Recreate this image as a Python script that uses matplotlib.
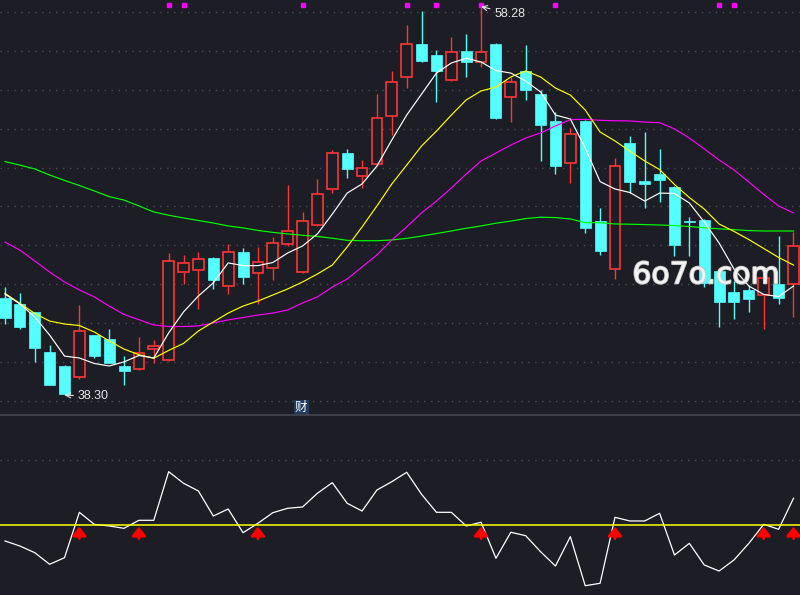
import numpy as np
import matplotlib
matplotlib.use("Agg")
import matplotlib.pyplot as plt
from matplotlib.lines import Line2D
import matplotlib.transforms as mtransforms
import matplotlib.patheffects as pe

# candle data
opens = [43.31, 42.99, 42.58, 40.52, 39.80, 39.25, 41.39, 41.19, 39.80, 39.63,
         40.66, 40.09, 44.63, 44.72, 45.35, 43.90, 45.65, 44.57, 44.85, 46.06,
         44.62, 47.03, 48.88, 50.75, 49.56, 50.17, 52.64, 54.64, 56.35, 55.79,
         54.52, 56.00, 55.41, 56.35, 53.65, 54.97, 53.78, 52.40, 50.25, 52.40,
         47.25, 44.77, 51.25, 49.31, 49.67, 49.00, 47.25, 47.31, 44.69, 43.60,
         43.71, 43.43, 44.00, 44.00]
highs = [43.85, 43.54, 42.60, 40.88, 39.87, 42.93, 41.40, 41.70, 40.31, 41.29,
         41.14, 45.62, 45.52, 45.66, 45.40, 46.07, 45.87, 45.92, 46.43, 49.11,
         47.70, 49.41, 50.91, 50.96, 50.39, 53.78, 54.97, 57.33, 58.04, 56.05,
         56.71, 56.87, 58.28, 56.40, 54.64, 56.30, 53.99, 52.84, 52.02, 52.45,
         47.92, 50.48, 51.63, 51.83, 50.96, 49.05, 47.46, 47.35, 44.80, 44.16,
         43.96, 44.50, 46.48, 46.69]
lows = [41.96, 41.72, 40.02, 38.80, 38.30, 39.12, 40.20, 39.93, 38.84, 39.60,
        39.97, 40.05, 44.03, 42.75, 43.78, 43.52, 44.03, 43.00, 44.24, 45.95,
        44.60, 47.00, 48.68, 49.48, 48.97, 50.10, 51.68, 54.08, 55.45, 53.36,
        54.47, 54.67, 55.16, 52.50, 52.36, 53.49, 50.36, 49.66, 49.19, 46.62,
        45.52, 44.26, 48.68, 47.91, 48.23, 45.45, 45.47, 43.88, 41.82, 42.23,
        42.59, 41.72, 43.00, 42.33]
closes = [42.28, 41.81, 40.74, 38.84, 38.36, 41.58, 40.33, 39.95, 39.56, 40.46,
          40.81, 45.20, 45.08, 45.32, 44.24, 45.65, 44.39, 45.13, 46.11, 46.72,
          47.27, 48.64, 50.73, 49.95, 49.96, 52.53, 54.38, 56.35, 55.50, 54.98,
          55.93, 55.45, 55.93, 52.57, 54.38, 53.99, 52.19, 50.10, 51.71, 46.91,
          45.73, 50.08, 49.28, 49.17, 49.36, 46.04, 47.20, 44.07, 43.11, 43.11,
          43.26, 44.31, 43.31, 45.95]

# moving averages as drawn
ma5 = [43.50, 42.99, 42.32, 41.39, 40.31, 40.21, 39.93, 39.80, 40.01, 40.34,
       40.21, 41.50, 42.58, 43.40, 44.07, 45.10, 44.96, 44.96, 45.12, 45.61,
       45.97, 46.59, 47.61, 48.69, 49.16, 50.08, 51.42, 52.70, 53.78, 54.86,
       55.38, 55.62, 55.43, 54.99, 54.86, 54.45, 53.89, 52.70, 52.50, 51.01,
       49.28, 48.90, 48.72, 48.28, 48.69, 48.67, 48.18, 47.20, 46.12, 44.79,
       43.91, 43.48, 43.37, 43.91]
ma10 = [43.53, 43.02, 42.50, 42.11, 41.96, 41.88, 41.55, 41.09, 40.67, 40.38,
        40.20, 40.60, 40.96, 41.60, 42.06, 42.52, 42.88, 43.14, 43.45, 43.76,
        44.12, 44.53, 44.99, 45.92, 46.95, 48.03, 49.16, 50.13, 51.11, 51.88,
        52.70, 53.48, 53.94, 54.14, 54.66, 54.97, 54.66, 54.09, 53.73, 52.96,
        51.83, 51.37, 50.85, 50.34, 49.90, 49.13, 48.46, 47.87, 47.10, 46.72,
        46.30, 45.84, 45.38, 44.99]
ma30 = [46.17, 45.76, 45.20, 44.63, 44.12, 43.71, 43.35, 42.88, 42.45, 42.18,
        41.91, 41.83, 41.83, 41.86, 42.01, 42.17, 42.29, 42.42, 42.52, 42.68,
        43.04, 43.35, 43.86, 44.27, 44.89, 45.51, 46.28, 46.95, 47.67, 48.28,
        48.95, 49.67, 50.34, 50.75, 51.16, 51.52, 51.78, 52.14, 52.47, 52.48,
        52.43, 52.41, 52.40, 52.34, 52.31, 51.99, 51.52, 50.96, 50.39, 49.88,
        49.26, 48.62, 48.03, 47.67]
ma60 = [50.31, 50.13, 49.93, 49.62, 49.34, 49.08, 48.80, 48.51, 48.33, 48.03,
        47.72, 47.55, 47.41, 47.28, 47.15, 47.00, 46.90, 46.77, 46.67, 46.59,
        46.52, 46.46, 46.37, 46.26, 46.24, 46.24, 46.28, 46.36, 46.48, 46.61,
        46.74, 46.88, 47.00, 47.14, 47.25, 47.38, 47.45, 47.43, 47.36, 47.17,
        47.17, 47.10, 47.09, 47.07, 47.05, 47.02, 46.97, 46.91, 46.85, 46.81,
        46.76, 46.74, 46.74, 46.74]

# lower indicator
osc = [-24.6, -32.3, -42.6, -60.5, -50.3, 19.5, 1.0, -1.5, -5.1, 7.2,
       7.2, 82.0, 64.2, 52.3, 13.8, 24.6, -11.8, 2.6, 18.9, 25.7,
       27.7, 48.8, 65.1, 33.4, 21.5, 53.8, 66.6, 81.1, 47.2, 19.5,
       19.5, -1.5, 4.2, -51.2, -11.2, -16.5, -41.1, -63.1, -18.0, -93.4,
       -89.7, 11.8, 6.2, 6.2, 18.0, -46.2, -28.2, -61.5, -70.8, -53.8,
       -28.2, 1.0, -6.6, 41.1]

marks = [11, 12, 20, 27, 29, 32, 37, 48, 49]   # magenta dots on top
report_idx = 20                                 # "财" marker
hi_label, lo_label = "58.28", "38.30"

bg = "#1d1e25"
red = "#ff3434"
cyan = "#55ffff"
grid_c = "#4a4d56"

x = np.arange(len(closes))
o = np.array(opens); c = np.array(closes)
h = np.array(highs); l = np.array(lows)
up = c >= o

fig = plt.figure(figsize=(8, 5.95), dpi=100, facecolor=bg)
ax = fig.add_axes([0, 180 / 595, 1, 415 / 595])
ax2 = fig.add_axes([0, 0, 1, 180 / 595])
for a in (ax, ax2):
    a.set_facecolor(bg)
    a.set_xticks([]); a.set_yticks([])
    for s in a.spines.values():
        s.set_visible(False)
    a.set_xlim(-0.336, 53.437)

ax.set_ylim(37.28, 58.617)
for g in range(38, 59, 2):
    ax.axhline(g, color=grid_c, lw=1, ls=(0, (1, 4)), zorder=0)

# wicks
ax.vlines(x[~up], l[~up], h[~up], color=cyan, lw=1, zorder=2)
ax.vlines(x[up], c[up], h[up], color=red, lw=1, zorder=2)
ax.vlines(x[up], l[up], o[up], color=red, lw=1, zorder=2)
# bodies
hgt = np.maximum(np.abs(c - o), 0.06)
ax.bar(x[~up], hgt[~up], bottom=np.minimum(o, c)[~up], width=0.74,
       color=cyan, edgecolor=cyan, lw=0.5, zorder=3)
ax.bar(x[up], hgt[up], bottom=o[up], width=0.72,
       color=bg, edgecolor=red, lw=1.2, zorder=3)

ax.plot(x, ma60, color="#00ff00", lw=0.85, zorder=4)
ax.plot(x, ma30, color="#ff00ff", lw=0.85, zorder=4)
ax.plot(x, ma10, color="#ffff00", lw=0.85, zorder=4)
ax.plot(x, ma5, color="#ffffff", lw=0.85, zorder=4)

top = mtransforms.blended_transform_factory(ax.transData, ax.transAxes)
ax.plot(marks, [0.987] * len(marks), ls="none", marker="s", ms=2.6,
        color="#ff00ff", transform=top, zorder=5)

ih = int(np.argmax(h)); il = int(np.argmin(l))
ax.annotate(hi_label, xy=(ih, h[ih]), xytext=(13, -7), textcoords="offset pixels",
            ha="left", va="center", color="#e6e6e6", fontsize=9,
            family="Liberation Sans",
            arrowprops=dict(arrowstyle="->", color="#e6e6e6", lw=0.8,
                            shrinkA=1, shrinkB=0), zorder=6)
ax.annotate(lo_label, xy=(il, l[il]), xytext=(13, -1), textcoords="offset pixels",
            ha="left", va="center", color="#e6e6e6", fontsize=9,
            family="Liberation Sans",
            arrowprops=dict(arrowstyle="->", color="#e6e6e6", lw=0.8,
                            shrinkA=1, shrinkB=0), zorder=6)

ax.text(report_idx - 0.1, 0.018, "财", transform=top, ha="center", va="center",
        fontsize=9, color="#ffffff", family=["Noto Sans CJK SC", "DejaVu Sans"],
        bbox=dict(boxstyle="square,pad=0.1", fc="#1f3b63", ec="none"), zorder=6)

fig.text(0.8825, 0.538, "6o7o.com", ha="center", va="center", fontsize=21.5,
         color="#f4f4f4", family="DejaVu Sans", zorder=10,
         path_effects=[pe.withStroke(linewidth=1.3, foreground="#c8c8c8")])

# separator between panels
fig.add_artist(Line2D([0, 1], [180 / 595, 180 / 595], color="#3d4049", lw=1.5))

# lower panel
ax2.set_ylim(-107.7, 169.2)
ax2.axhline(100, color=grid_c, lw=1, ls=(0, (1, 4)), zorder=0)
ax2.plot(x, osc, color="#ffffff", lw=0.9, zorder=2)
ax2.axhline(0, color="#ffff00", lw=1.1, zorder=3)
osc_a = np.array(osc)
cross = [i for i in range(1, len(osc_a)) if osc_a[i - 1] < 0 <= osc_a[i]]
for i in cross:
    ax2.annotate("", xy=(i, -2.5), xytext=(i, -21),
                 arrowprops=dict(arrowstyle="-|>,head_width=0.3,head_length=0.38",
                                 mutation_scale=14, color="#ff0000", lw=2,
                                 shrinkA=0, shrinkB=0), zorder=4)

fig.savefig("out.png", dpi=100, facecolor=bg)
